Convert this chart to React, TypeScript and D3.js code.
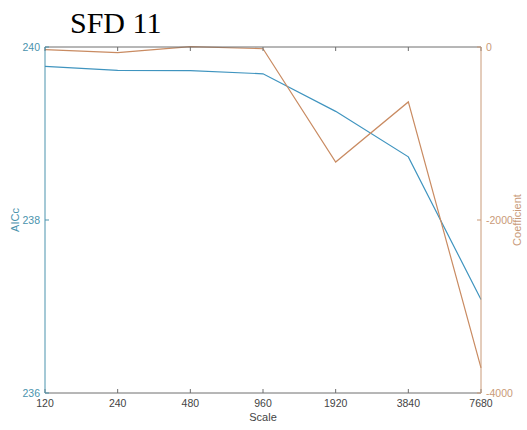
import React from "react";
import * as d3 from "d3";

const scales = [120, 240, 480, 960, 1920, 3840, 7680];
const aicc = [239.776, 239.73, 239.727, 239.69, 239.256, 238.73, 237.08];
const coefficient = [-30, -65, 5, -20, -1330, -635, -3710];
const leftTicks = [236, 238, 240];
const rightTicks = [-4000, -2000, 0];
const title = "SFD 11";

const W = 527, H = 430;
const m = { left: 45, right: 481, top: 47, bottom: 393 };
const blue = "#3f94bf";
const orange = "#c98b62";
const blueAxis = "#4a93ad";
const orangeAxis = "#c99a78";
const grayAxis = "#6e6e6e";
const font = "'Liberation Sans', Arial, sans-serif";

export default function App() {
  const x = d3.scaleLog().base(2).domain([120, 7680]).range([m.left, m.right]);
  const yL = d3.scaleLinear().domain([236, 240]).range([m.bottom, m.top]);
  const yR = d3.scaleLinear().domain([-4000, 0]).range([m.bottom, m.top]);
  const lineL = d3.line<number>().x((_, i) => x(scales[i])).y((d) => yL(d));
  const lineR = d3.line<number>().x((_, i) => x(scales[i])).y((d) => yR(d));
  const tl = 4;
  return (
    <svg width={W} height={H} style={{ position: "absolute", left: 0, top: 0, background: "#fff" }}>
      <text x={70} y={33} fontFamily="'Liberation Serif', 'Times New Roman', serif" fontSize={30} fill="#000">{title}</text>
      <path d={lineL(aicc) || ""} fill="none" stroke={blue} strokeWidth={1.2} />
      <path d={lineR(coefficient) || ""} fill="none" stroke={orange} strokeWidth={1.2} />
      {/* bottom & top axes */}
      <line x1={m.left} x2={m.right} y1={m.bottom} y2={m.bottom} stroke={grayAxis} strokeWidth={1} />
      <line x1={m.left} x2={m.right} y1={m.top} y2={m.top} stroke={grayAxis} strokeWidth={1} />
      {scales.map((s) => (
        <g key={s}>
          <line x1={x(s)} x2={x(s)} y1={m.bottom} y2={m.bottom - tl} stroke={grayAxis} />
          <line x1={x(s)} x2={x(s)} y1={m.top} y2={m.top + tl} stroke={grayAxis} />
          <text x={x(s)} y={407} textAnchor="middle" fontFamily={font} fontSize={10.5} fill="#444">{s}</text>
        </g>
      ))}
      <text x={(m.left + m.right) / 2} y={421} textAnchor="middle" fontFamily={font} fontSize={11} fill="#444">Scale</text>
      {/* left axis */}
      <line x1={m.left} x2={m.left} y1={m.top} y2={m.bottom} stroke={blueAxis} strokeWidth={1} />
      {leftTicks.map((t) => (
        <g key={t}>
          <line x1={m.left} x2={m.left + tl} y1={yL(t)} y2={yL(t)} stroke={blueAxis} />
          <text x={m.left - 5} y={yL(t) + 3.5} textAnchor="end" fontFamily={font} fontSize={10.5} fill={blueAxis}>{t}</text>
        </g>
      ))}
      <text transform={`translate(19,${(m.top + m.bottom) / 2}) rotate(-90)`} textAnchor="middle" fontFamily={font} fontSize={11} fill={blueAxis}>AICc</text>
      {/* right axis */}
      <line x1={m.right} x2={m.right} y1={m.top} y2={m.bottom} stroke={orangeAxis} strokeWidth={1} />
      {rightTicks.map((t) => (
        <g key={t}>
          <line x1={m.right} x2={m.right - tl} y1={yR(t)} y2={yR(t)} stroke={orangeAxis} />
          <text x={m.right + 5} y={yR(t) + 3.5} textAnchor="start" fontFamily={font} fontSize={10.5} fill={orangeAxis}>{t}</text>
        </g>
      ))}
      <text transform={`translate(521,${(m.top + m.bottom) / 2}) rotate(-90)`} textAnchor="middle" fontFamily={font} fontSize={11} fill={orangeAxis}>Coefficient</text>
    </svg>
  );
}
